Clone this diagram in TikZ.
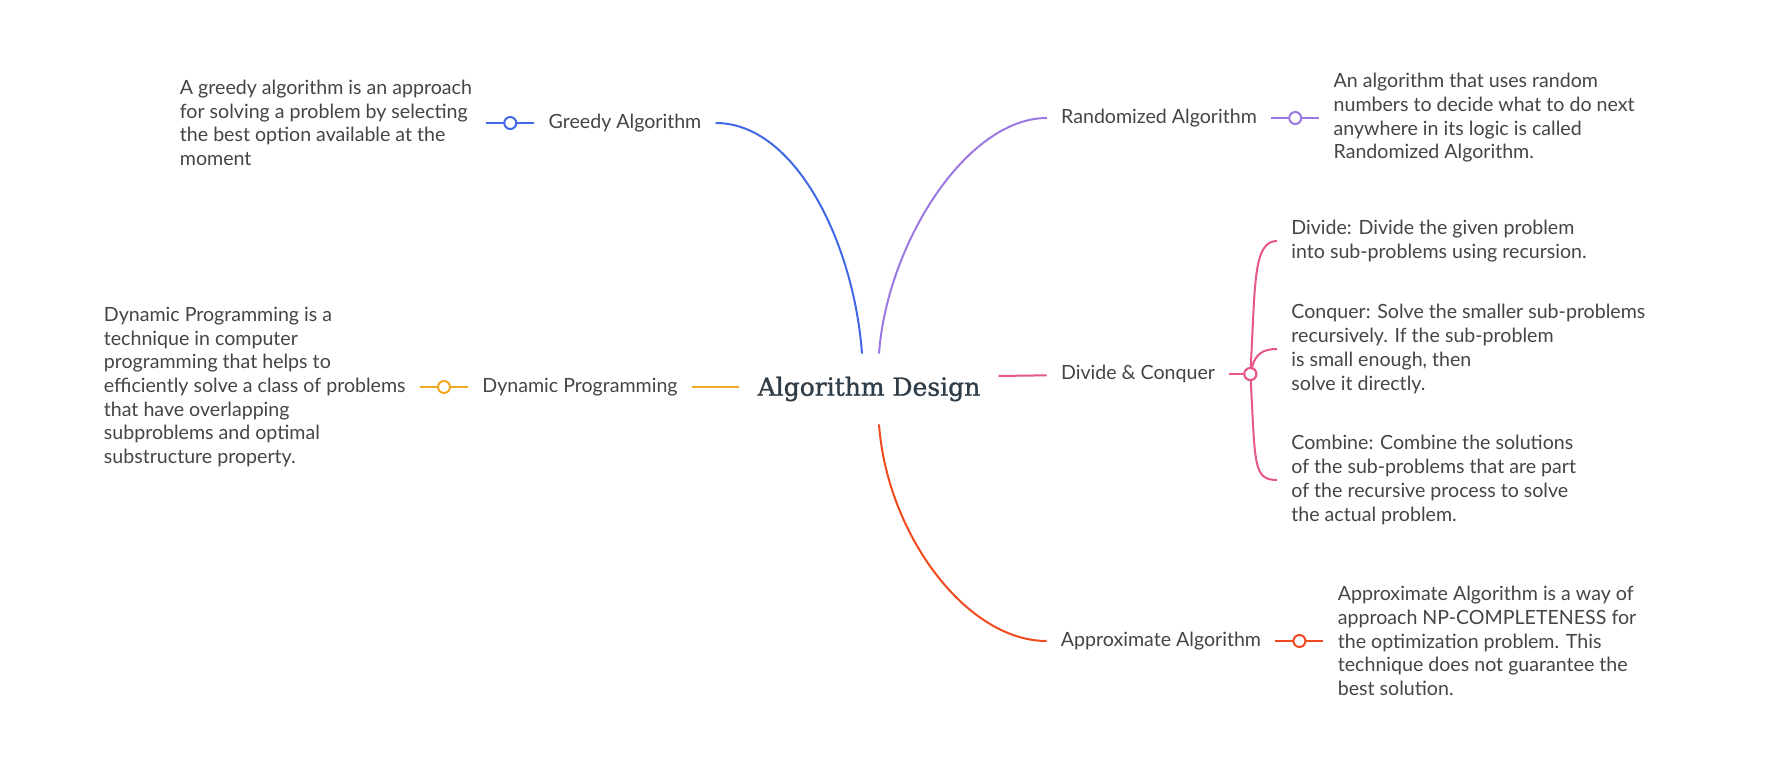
\documentclass[tikz,border=0pt]{standalone}
\usepackage{fontspec}
\setmainfont{Lato}
\newfontfamily\titlefont[FakeBold=1.2]{DejaVu Serif}
\usetikzlibrary{positioning}
\definecolor{textgray}{HTML}{454545}
\definecolor{titlegray}{HTML}{2F3D48}
\definecolor{greedyblue}{HTML}{4169E6}
\definecolor{randpurple}{HTML}{9C78E2}
\definecolor{dcpink}{HTML}{E6568A}
\definecolor{dporange}{HTML}{F0A823}
\definecolor{approxred}{HTML}{F04A1E}

\begin{document}
\begin{tikzpicture}[x=0.5pt,y=-0.5pt,
  branch/.style={inner xsep=7pt,inner ysep=3pt,text=textgray,font=\fontsize{9.8}{11.85}\selectfont},
  note/.style={branch,align=left},
  knob/.style={circle,draw,fill=white,inner sep=0pt,minimum size=6pt,line width=1pt},
  link/.style={line width=1pt}]
  \useasboundingbox[fill=white] (0,0) rectangle (1785,771);

  % centre
  \node[font=\titlefont\fontsize{12.5}{15}\selectfont,text=titlegray,inner xsep=9pt,minimum height=35pt] (root) at (869,389) {Algorithm Design};

  % left side
  \node[branch] (greedy) at (625,123) {Greedy Algorithm};
  \node[note,left=24pt of greedy] (greedyN) {A greedy algorithm is an approach\\for solving a problem by selecting\\the best option available at the\\moment};
  \node[branch] (dp) at (580,387) {Dynamic Programming};
  \node[note,left=24pt of dp] (dpN) {Dynamic Programming is a\\technique in computer\\programming that helps to\\efficiently solve a class of problems\\that have overlapping\\subproblems and optimal\\substructure property.};

  % right side
  \node[branch] (rand) at (1159,118) {Randomized Algorithm};
  \node[note,right=24pt of rand] (randN) {An algorithm that uses random\\numbers to decide what to do next\\anywhere in its logic is called\\Randomized Algorithm.};
  \node[branch] (dc) at (1138,374) {Divide \& Conquer};
  \node[knob,draw=dcpink,right=7pt of dc] (dcknob) {};
  \node[note,anchor=west] (divN) at (1277,241) {Divide: Divide the given problem\\into sub-problems using recursion.};
  \node[note,anchor=west] (conN) at (1277,349) {Conquer: Solve the smaller sub-problems\\recursively. If the sub-problem\\is small enough, then\\solve it directly.};
  \node[note,anchor=west] (comN) at (1277,480) {Combine: Combine the solutions\\of the sub-problems that are part\\of the recursive process to solve\\the actual problem.};
  \node[branch] (approx) at (1161,641) {Approximate Algorithm};
  \node[note,right=24pt of approx] (approxN) {Approximate Algorithm is a way of\\approach NP-COMPLETENESS for\\the optimization problem. This\\technique does not guarantee the\\best solution.};

  % links
  \draw[link,greedyblue] ([xshift=-3.5pt]root.north) .. controls +(-8,-110) and +(80,0) .. (greedy.east);
  \draw[link,randpurple] ([xshift=5pt]root.north) .. controls +(8,-110) and +(-80,0) .. (rand.west);
  \draw[link,approxred] ([xshift=5pt]root.south) .. controls +(8,110) and +(-80,0) .. (approx.west);
  \draw[link,dporange] (root.west |- dp) -- (dp.east);
  \draw[link,dcpink] ([yshift=6.5pt]root.east) -- (dc);

  \draw[link,greedyblue] (greedy) -- node[knob]{} (greedyN);
  \draw[link,dporange] (dp) -- node[knob]{} (dpN);
  \draw[link,randpurple] (rand) -- node[knob]{} (randN);
  \draw[link,approxred] (approx) -- node[knob]{} (approxN);

  \draw[link,dcpink] (dc) -- (dcknob);
  \draw[link,dcpink] (dcknob) .. controls +(5,-90) and +(-24,0) .. (divN.west);
  \draw[link,dcpink] (dcknob) .. controls +(5,-20) and +(-14,0) .. (conN.west);
  \draw[link,dcpink] (dcknob) .. controls +(5,90) and +(-24,0) .. (comN.west);
  \node[knob,draw=dcpink] at (dcknob) {};
\end{tikzpicture}
\end{document}
